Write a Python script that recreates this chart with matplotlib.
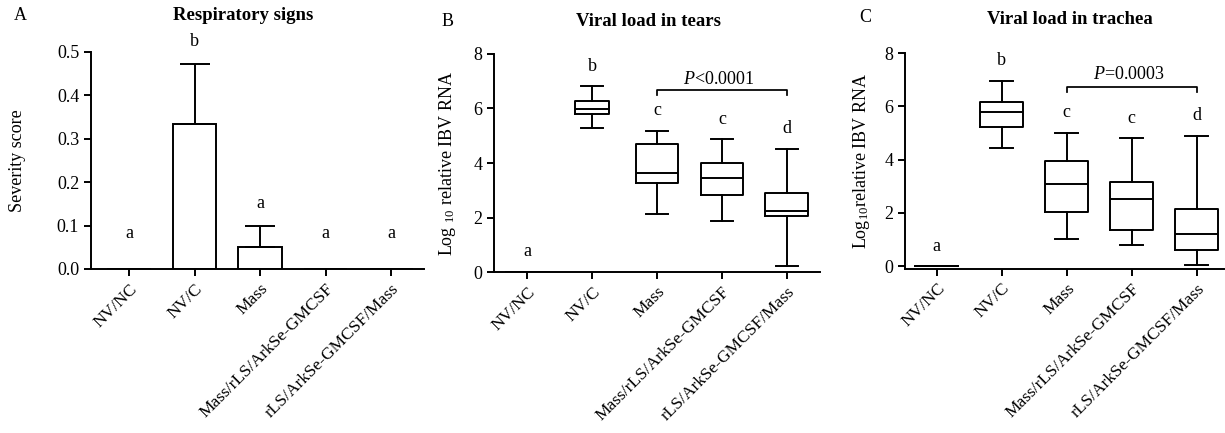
import matplotlib
matplotlib.use("Agg")
import matplotlib.pyplot as plt
import numpy as np

plt.rcParams["font.family"] = ["Liberation Serif", "DejaVu Serif"]
plt.rcParams["mathtext.fontset"] = "custom"
plt.rcParams["mathtext.rm"] = "Liberation Serif"
plt.rcParams["mathtext.it"] = "Liberation Serif:italic"

groups = ["NV/NC", "NV/C", "Mass", "Mass/rLS/ArkSe-GMCSF", "rLS/ArkSe-GMCSF/Mass"]

# panel A: respiratory signs (mean + upper SD)
resp_mean = [0.0, 0.333, 0.051, 0.0, 0.0]
resp_err = [0.0, 0.140, 0.049, 0.0, 0.0]
resp_letters = ["a", "b", "a", "a", "a"]

# panel B: viral load in tears (whisker low, Q1, median, Q3, whisker high)
tears_low = [0.0, 5.28, 2.12, 1.87, 0.22]
tears_q1 = [0.0, 5.79, 3.28, 2.82, 2.05]
tears_med = [0.0, 5.99, 3.64, 3.46, 2.23]
tears_q3 = [0.0, 6.29, 4.69, 4.01, 2.91]
tears_high = [0.0, 6.81, 5.18, 4.87, 4.52]
tears_letters = ["a", "b", "c", "c", "d"]
tears_p = r"$\mathit{P}$<0.0001"

# panel C: viral load in trachea
trach_low = [0.0, 4.45, 1.02, 0.79, 0.04]
trach_q1 = [0.0, 5.21, 2.04, 1.37, 0.62]
trach_med = [0.0, 5.79, 3.10, 2.53, 1.22]
trach_q3 = [0.0, 6.16, 3.95, 3.15, 2.15]
trach_high = [0.0, 6.97, 5.01, 4.80, 4.90]
trach_letters = ["a", "b", "c", "c", "d"]
trach_p = r"$\mathit{P}$=0.0003"

LW = 1.4
FS = 13
W, H = 1225, 433

fig = plt.figure(figsize=(12.25, 4.33), dpi=100)
axA = fig.add_axes([0.0743, 0.3788, 0.2718, 0.5012])
axB = fig.add_axes([0.4033, 0.3718, 0.2661, 0.5035])
axC = fig.add_axes([0.7388, 0.3794, 0.2604, 0.4980])


def style_axis(ax):
    for side in ["top", "right"]:
        ax.spines[side].set_visible(False)
    for side in ["left", "bottom"]:
        ax.spines[side].set_linewidth(LW)
    ax.tick_params(width=LW, length=5, labelsize=FS, direction="out")
    ax.set_xticks(range(len(groups)))
    ax.set_xticklabels(groups, rotation=45, ha="right", rotation_mode="anchor", fontsize=12.5)


def panel_head(letter, lx, ly, title, tx, ty):
    fig.text(lx / W, 1 - ly / H, letter, fontsize=13, ha="center", va="center")
    fig.text(tx / W, 1 - ty / H, title, fontsize=13.5, fontweight="bold", ha="center", va="center")


x = np.arange(len(groups))

# ---- A
axA.bar(x, resp_mean, width=0.66, color="white", edgecolor="black", linewidth=LW)
mask = np.array(resp_err) > 0
axA.errorbar(x[mask], np.array(resp_mean)[mask], yerr=[np.zeros(mask.sum()), np.array(resp_err)[mask]],
             fmt="none", ecolor="black", elinewidth=LW, capsize=11, capthick=LW)
tops = np.array(resp_mean) + np.array(resp_err)
for xi, t, lab in zip(x, tops, resp_letters):
    axA.text(xi, max(t, 0.03) + 0.052, lab, ha="center", va="center", fontsize=FS)
axA.set_xlim(-0.58, 4.5)
axA.set_ylim(0, 0.5)
axA.set_yticks([0, 0.1, 0.2, 0.3, 0.4, 0.5])
axA.set_yticklabels(["0.0", "0.1", "0.2", "0.3", "0.4", "0.5"])
axA.set_ylabel("Severity score", fontsize=FS, labelpad=22)
style_axis(axA)
panel_head("A", 20, 16, "Respiratory signs", 243, 16)


def draw_box(ax, low, q1, med, q3, high, widths, letters, ptext, ybr, ytxt):
    stats = []
    for lo, a, m, b, hi in zip(low, q1, med, q3, high):
        stats.append({"whislo": lo, "q1": a, "med": m, "q3": b, "whishi": hi, "fliers": []})
    props = {"color": "black", "linewidth": LW}
    ax.bxp(stats, positions=x, widths=widths, capwidths=[0.35] * len(x), showfliers=False,
           boxprops=props, whiskerprops=props, capprops=props,
           medianprops={"color": "black", "linewidth": LW}, manage_ticks=False)
    for xi, t, lab in zip(x, high, letters):
        ax.text(xi, t + 0.74, lab, ha="center", va="center", fontsize=FS)
    ax.plot([2, 2, 4, 4], [ybr - 0.2, ybr, ybr, ybr - 0.2], color="black", lw=LW * 0.9)
    ax.text(2.95, ytxt, ptext, ha="center", va="center", fontsize=FS)
    ax.set_yticks([0, 2, 4, 6, 8])
    style_axis(ax)


# ---- B
draw_box(axB, tears_low, tears_q1, tears_med, tears_q3, tears_high,
         [0.66, 0.52, 0.66, 0.66, 0.66], tears_letters, tears_p, 6.69, 7.05)
axB.set_xlim(-0.51, 4.51)
axB.set_ylim(0, 8)
axB.set_ylabel(r"Log $_{10}$ relative IBV RNA", fontsize=FS, labelpad=11)
panel_head("B", 448, 22, "Viral load in tears", 648, 21)

# ---- C
draw_box(axC, trach_low, trach_q1, trach_med, trach_q3, trach_high,
         [0.66] * 5, trach_letters, trach_p, 6.73, 7.2)
axC.set_xlim(-0.49, 4.42)
axC.set_ylim(-0.1, 8)
axC.set_ylabel(r"Log$_{10}$relative IBV RNA", fontsize=FS, labelpad=9)
panel_head("C", 865, 18, "Viral load in trachea", 1070, 20)

fig.savefig("out.png", dpi=100)
